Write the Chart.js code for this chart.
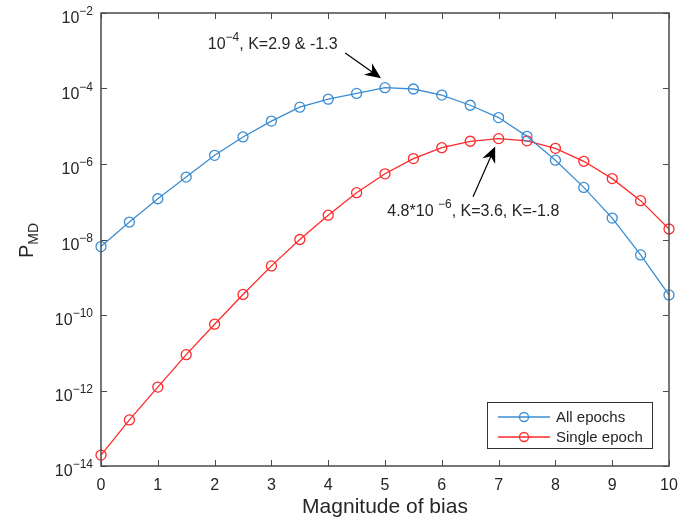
<!DOCTYPE html>
<html>
<head>
<meta charset="utf-8">
<script src="https://cdn.jsdelivr.net/npm/chart.js@4/dist/chart.umd.min.js"></script>
<style>
  html, body { margin: 0; padding: 0; background: #fff; }
  canvas { display: block; }
</style>
</head>
<body>
<canvas id="chart" width="681" height="522"></canvas>
<script>
// data
const bias = [0, 0.5, 1, 1.5, 2, 2.5, 3, 3.5, 4, 4.5, 5, 5.5, 6, 6.5, 7, 7.5, 8, 8.5, 9, 9.5, 10];
const allEpochs = [6.5e-9, 2.9e-8, 1.2e-7, 4.5e-7, 1.7e-6, 5.2e-6, 1.37e-5, 3.2e-5, 5.2e-5, 7.4e-5,
  1.05e-4, 9.7e-5, 6.7e-5, 3.6e-5, 1.7e-5, 5.4e-6, 1.26e-6, 2.4e-7, 3.7e-8, 3.9e-9, 3.4e-10];
const singleEpoch = [1.95e-14, 1.66e-13, 1.23e-12, 8.9e-12, 5.7e-11, 3.5e-10, 2.0e-9, 1.0e-8, 4.4e-8, 1.74e-7,
  5.5e-7, 1.39e-6, 2.7e-6, 4.0e-6, 4.7e-6, 4.1e-6, 2.6e-6, 1.18e-6, 4.1e-7, 1.07e-7, 1.9e-8];
const xTicks = [0, 1, 2, 3, 4, 5, 6, 7, 8, 9, 10];
const yTickExponents = [-14, -12, -10, -8, -6, -4, -2];
const seriesNames = ['All epochs', 'Single epoch'];

const BLUE = '#3a8dd2';
const RED = '#ff2a2a';
const TEXT = '#262626';
const FONT = "'Liberation Sans', Arial, sans-serif";

// text callouts, placed in data units
const callouts = [
  { base: '10', sup: '\u22124', rest: ', K=2.9 & -1.3', at: [1.88, 1.1e-3],
    from: [4.30, 8.7e-4], to: [4.93, 1.86e-4] },
  { base: '4.8*10 ', sup: '\u22126', rest: ', K=3.6, K=-1.8', at: [5.04, 4.3e-8],
    from: [6.55, 1.35e-7], to: [6.94, 2.9e-6] }
];

function drawPow(ctx, x, y, base, sup, rest, size, align) {
  const supSize = Math.round(size * 0.75);
  ctx.font = size + 'px ' + FONT;
  const wb = ctx.measureText(base).width;
  const wr = rest ? ctx.measureText(rest).width : 0;
  ctx.font = supSize + 'px ' + FONT;
  const ws = ctx.measureText(sup).width;
  let x0 = align === 'right' ? x - (wb + ws + wr) : x;
  ctx.textAlign = 'left';
  ctx.textBaseline = 'alphabetic';
  ctx.font = size + 'px ' + FONT;
  ctx.fillText(base, x0, y);
  ctx.font = supSize + 'px ' + FONT;
  ctx.fillText(sup, x0 + wb, y - size * 0.5);
  if (rest) {
    ctx.font = size + 'px ' + FONT;
    ctx.fillText(rest, x0 + wb + ws, y);
  }
}

function drawArrow(ctx, x1, y1, x2, y2) {
  const ang = Math.atan2(y2 - y1, x2 - x1);
  const len = 16, half = 7, notch = 5;
  ctx.strokeStyle = '#000';
  ctx.lineWidth = 1.2;
  ctx.beginPath();
  ctx.moveTo(x1, y1);
  ctx.lineTo(x2 - Math.cos(ang) * 10, y2 - Math.sin(ang) * 10);
  ctx.stroke();
  ctx.save();
  ctx.translate(x2, y2);
  ctx.rotate(ang);
  ctx.fillStyle = '#000';
  ctx.beginPath();
  ctx.moveTo(0, 0);
  ctx.lineTo(-len, -half);
  ctx.lineTo(-len + notch, 0);
  ctx.lineTo(-len, half);
  ctx.closePath();
  ctx.fill();
  ctx.restore();
}

const decorations = {
  id: 'decorations',
  afterDraw(chart) {
    const ctx = chart.ctx;
    const a = chart.chartArea;
    const xs = chart.scales.x, ys = chart.scales.y;
    ctx.save();

    // axes box
    ctx.strokeStyle = '#4a4a4a';
    ctx.lineWidth = 1.5;
    ctx.strokeRect(a.left, a.top, a.right - a.left, a.bottom - a.top);

    // inward tick marks
    ctx.lineWidth = 1;
    ctx.beginPath();
    xTicks.forEach(v => {
      const px = Math.round(xs.getPixelForValue(v)) + 0.5;
      ctx.moveTo(px, a.bottom); ctx.lineTo(px, a.bottom - 6);
      ctx.moveTo(px, a.top); ctx.lineTo(px, a.top + 6);
    });
    yTickExponents.forEach(e => {
      const py = Math.round(ys.getPixelForValue(Math.pow(10, e))) + 0.5;
      ctx.moveTo(a.left, py); ctx.lineTo(a.left + 6, py);
      ctx.moveTo(a.right, py); ctx.lineTo(a.right - 6, py);
    });
    ctx.stroke();

    // y tick labels 10^n
    ctx.fillStyle = TEXT;
    yTickExponents.forEach(e => {
      const py = ys.getPixelForValue(Math.pow(10, e));
      drawPow(ctx, a.left - 8, py + 10, '10', String(e).replace('-', '\u2212'), '', 16, 'right');
    });

    // y axis title P_MD
    ctx.save();
    ctx.translate(33, 258);
    ctx.rotate(-Math.PI / 2);
    ctx.textAlign = 'left';
    ctx.textBaseline = 'alphabetic';
    ctx.font = '20px ' + FONT;
    ctx.fillText('P', 0, 0);
    const wp = ctx.measureText('P').width;
    ctx.font = '14px ' + FONT;
    ctx.fillText('MD', wp, 5);
    ctx.restore();

    // callouts
    callouts.forEach(c => {
      ctx.fillStyle = TEXT;
      drawPow(ctx, xs.getPixelForValue(c.at[0]), ys.getPixelForValue(c.at[1]), c.base, c.sup, c.rest, 16, 'left');
      drawArrow(ctx, xs.getPixelForValue(c.from[0]), ys.getPixelForValue(c.from[1]),
        xs.getPixelForValue(c.to[0]), ys.getPixelForValue(c.to[1]));
    });

    // legend, lower right inside the axes
    const lw = 165, lh = 46;
    const lx = a.right - 17 - lw, ly = a.bottom - 18 - lh;
    ctx.fillStyle = '#fff';
    ctx.fillRect(lx, ly, lw, lh);
    ctx.strokeStyle = '#333';
    ctx.lineWidth = 1;
    ctx.strokeRect(lx + 0.5, ly + 0.5, lw, lh);
    const colors = [BLUE, RED];
    seriesNames.forEach((name, i) => {
      const ry = ly + 15 + i * 20;
      ctx.strokeStyle = colors[i];
      ctx.lineWidth = 1.3;
      ctx.beginPath();
      ctx.moveTo(lx + 11, ry); ctx.lineTo(lx + 63, ry);
      ctx.stroke();
      ctx.beginPath();
      ctx.arc(lx + 37, ry, 4.5, 0, Math.PI * 2);
      ctx.stroke();
      ctx.fillStyle = TEXT;
      ctx.font = '15px ' + FONT;
      ctx.textAlign = 'left';
      ctx.textBaseline = 'middle';
      ctx.fillText(name, lx + 69, ry + 1);
    });
    ctx.restore();
  }
};

const toPoints = vals => vals.map((v, i) => ({ x: bias[i], y: v }));

new Chart(document.getElementById('chart'), {
  type: 'line',
  data: {
    datasets: [
      { label: seriesNames[0], data: toPoints(allEpochs), borderColor: BLUE, backgroundColor: 'transparent',
        borderWidth: 1.3, pointRadius: 5, pointBorderWidth: 1.3, pointBackgroundColor: 'transparent',
        pointBorderColor: BLUE, tension: 0, clip: false },
      { label: seriesNames[1], data: toPoints(singleEpoch), borderColor: RED, backgroundColor: 'transparent',
        borderWidth: 1.3, pointRadius: 5, pointBorderWidth: 1.3, pointBackgroundColor: 'transparent',
        pointBorderColor: RED, tension: 0, clip: false }
    ]
  },
  options: {
    responsive: false,
    animation: false,
    events: [],
    layout: { padding: { left: 0, right: 12, top: 13, bottom: 0 } },
    plugins: { legend: { display: false }, tooltip: { enabled: false } },
    scales: {
      x: {
        type: 'linear', min: 0, max: 10,
        afterBuildTicks: s => { s.ticks = xTicks.map(v => ({ value: v })); },
        afterFit: s => { s.height = 56; s.paddingLeft = 0; s.paddingRight = 0; },
        grid: { display: false, drawTicks: false },
        border: { display: false },
        ticks: { color: TEXT, font: { family: FONT, size: 16 }, padding: 10, maxRotation: 0 },
        title: { display: true, text: 'Magnitude of bias', color: TEXT,
          font: { family: FONT, size: 21 }, padding: { top: 0, bottom: 2 } }
      },
      y: {
        type: 'logarithmic', min: 1e-14, max: 1e-2,
        afterFit: s => { s.width = 101; s.paddingTop = 0; s.paddingBottom = 0; },
        grid: { display: false, drawTicks: false },
        border: { display: false },
        ticks: { display: false }
      }
    }
  },
  plugins: [decorations]
});
</script>
</body>
</html>
